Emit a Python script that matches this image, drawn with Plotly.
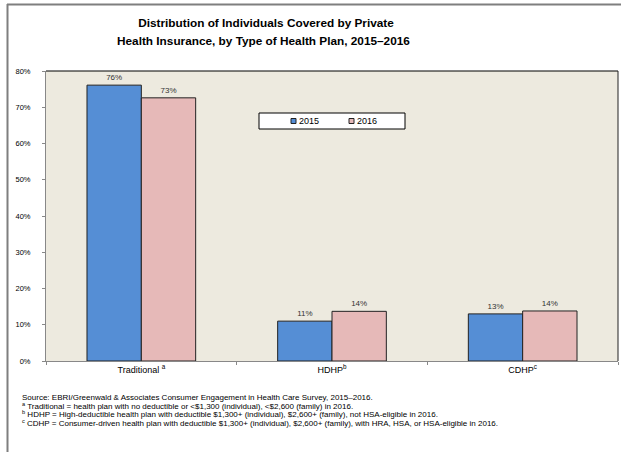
import plotly.graph_objects as go

categories = ["Traditional <sup>a</sup>", "HDHP<sup>b</sup>", "CDHP<sup>c</sup>"]
series_names = ["2015", "2016"]
values_2015 = [76.1, 11.0, 13.0]
values_2016 = [72.6, 13.7, 13.8]
colors = ["#558ED5", "#E6B9B8"]

title_lines = [
    "Distribution of Individuals Covered by Private",
    "Health Insurance, by Type of Health Plan, 2015\u20132016",
]

footnotes = [
    "Source: EBRI/Greenwald & Associates Consumer Engagement in Health Care Survey, 2015\u20132016.",
    "<sup>a</sup> Traditional = health plan with no deductible or <$1,300 (individual), <$2,600 (family) in 2016.",
    "<sup>b</sup> HDHP = High-deductible health plan with deductible $1,300+ (individual), $2,600+ (family), not HSA-eligible in 2016.",
    "<sup>c</sup> CDHP = Consumer-driven health plan with deductible $1,300+ (individual), $2,600+ (family), with HRA, HSA, or HSA-eligible in 2016.",
]

W, H = 621, 452
L, R, T, B = 46, 3, 71, 91
PW, PH = W - L - R, H - T - B

def px_x(px):
    return (px - L) / PW

def px_y(py):
    return (H - B - py) / PH

FONT = "Liberation Sans, Arial, sans-serif"

fig = go.Figure()
for name, vals, col in zip(series_names, [values_2015, values_2016], colors):
    fig.add_trace(go.Bar(
        name=name, x=categories, y=vals,
        marker=dict(color=col, line=dict(color="#222222", width=1)),
        text=[f"{v:.0f}%" for v in vals], textposition="outside",
        textfont=dict(size=8, color="#333333", family=FONT),
        cliponaxis=False,
    ))

shapes = [
    # plot border top and right
    dict(type="line", xref="paper", yref="paper", x0=0, x1=1, y0=1, y1=1, line=dict(color="#000000", width=1)),
    dict(type="line", xref="paper", yref="paper", x0=1, x1=1, y0=0, y1=1, line=dict(color="#222222", width=1)),
    # outer frame
    dict(type="line", xref="paper", yref="paper", x0=px_x(7), x1=px_x(625), y0=px_y(4.5), y1=px_y(4.5), line=dict(color="#7f7f7f", width=2)),
    dict(type="line", xref="paper", yref="paper", x0=px_x(7.5), x1=px_x(7.5), y0=px_y(4), y1=px_y(456), line=dict(color="#7f7f7f", width=2)),
    # legend box
    dict(type="rect", xref="paper", yref="paper", x0=px_x(259), x1=px_x(405), y0=px_y(113), y1=px_y(129),
         line=dict(color="#000000", width=1), fillcolor="white", layer="above"),
]

annotations = []
# legend keys and labels
for i, (name, col) in enumerate(zip(series_names, colors)):
    x0 = 291 + i * 58
    shapes.append(dict(type="rect", xref="paper", yref="paper",
                       x0=px_x(x0), x1=px_x(x0 + 5), y0=px_y(118.5), y1=px_y(123.5),
                       line=dict(color="#222222", width=1), fillcolor=col, layer="above"))
    annotations.append(dict(text=name, xref="paper", yref="paper", x=px_x(x0 + 5.5), y=px_y(121),
                            xanchor="left", yanchor="middle", showarrow=False,
                            font=dict(size=9, color="#000000", family=FONT)))

# second title line
annotations.append(dict(
    text="<b>" + title_lines[1] + "</b>", xref="paper", yref="paper",
    x=px_x(263), y=px_y(41.5), xanchor="center", yanchor="middle", showarrow=False,
    font=dict(size=11.8, color="#000000", family=FONT),
))

foot_y = [397, 405.5, 414, 422.5]
for txt, fy in zip(footnotes, foot_y):
    annotations.append(dict(
        text=txt, xref="paper", yref="paper", x=px_x(20), y=px_y(fy),
        xanchor="left", yanchor="middle", showarrow=False,
        font=dict(size=8, color="#000000", family=FONT), align="left",
    ))

fig.update_layout(
    width=W, height=H,
    margin=dict(l=L, r=R, t=T, b=B, autoexpand=False),
    paper_bgcolor="white", plot_bgcolor="#EDEADF",
    barmode="group", bargap=0.43, bargroupgap=0,
    title=dict(
        text="<b>" + title_lines[0] + "</b>",
        x=266 / W, xanchor="center", y=1 - 23 / H, yanchor="middle",
        font=dict(size=11.8, color="#000000", family=FONT),
    ),
    xaxis=dict(
        showline=True, linecolor="#888888", linewidth=1,
        ticks="outside", tickson="boundaries", ticklen=3, tickcolor="#888888",
        tickfont=dict(size=9, color="#000000", family=FONT),
        showgrid=False,
    ),
    yaxis=dict(
        range=[0, 80], dtick=10, ticksuffix="%",
        showline=True, linecolor="#888888", linewidth=1,
        ticks="outside", ticklen=3, tickcolor="#888888",
        ticklabelstandoff=10,
        tickfont=dict(size=7.5, color="#000000", family=FONT),
        showgrid=False, zeroline=False,
    ),
    showlegend=False,
    shapes=shapes, annotations=annotations,
)

fig.write_html("out.html")
